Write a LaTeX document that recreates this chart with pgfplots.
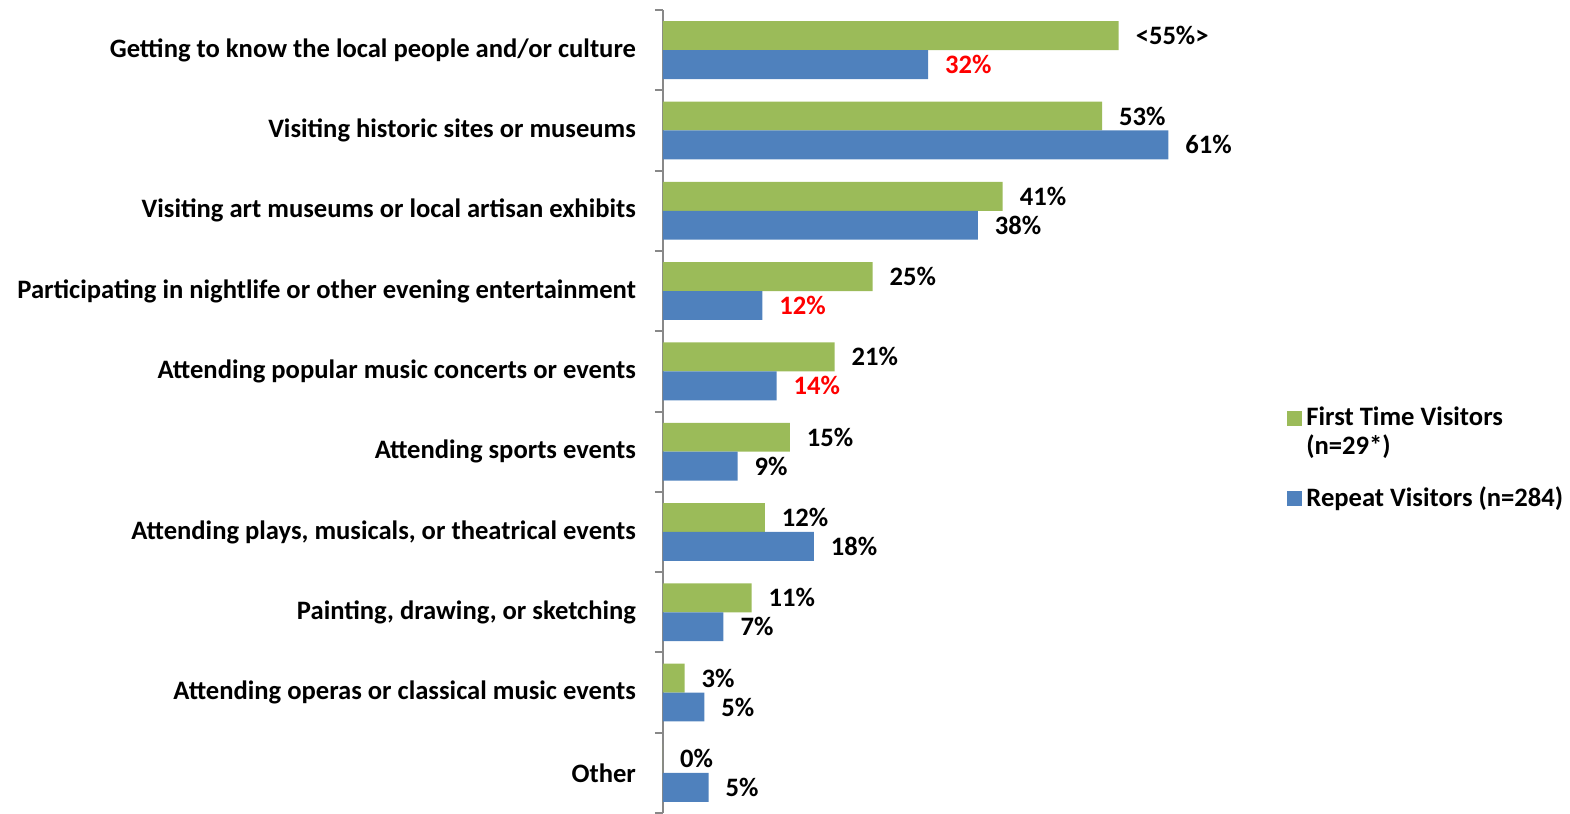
\documentclass[border=0pt]{standalone}
\usepackage{pgfplots}
\pgfplotsset{compat=1.18}
\usepackage{fontspec}
\setmainfont{Carlito}
\definecolor{fgreen}{HTML}{9BBB59}
\definecolor{rblue}{HTML}{4F81BD}
\definecolor{axgray}{HTML}{888888}
\newcommand{\R}[1]{\textcolor{red}{#1\%}}
\newcommand{\lfont}{\bfseries\fontsize{13.3}{14.5}\selectfont}
\begin{document}
\begin{tikzpicture}
\begin{axis}[
  scale only axis, width=290pt, height=401.5pt,
  xmin=0, xmax=70, ymin=-0.5, ymax=9.5, y dir=reverse,
  axis x line=none,
  axis y line*=left,
  y axis line style={draw=axgray, line width=1pt, -},
  ytick={0,...,9},
  yticklabels={
    Getting to know the local people and/or culture,
    Visiting historic sites or museums,
    Visiting art museums or local artisan exhibits,
    Participating in nightlife or other evening entertainment,
    Attending popular music concerts or events,
    Attending sports events,
    {Attending plays, musicals, or theatrical events},
    {Painting, drawing, or sketching},
    Attending operas or classical music events,
    Other},
  major tick length=0pt,
  minor ytick={-0.5,0.5,...,9.5},
  minor tick length=4pt,
  tick align=outside,
  minor tick style={draw=axgray, line width=1pt},
  yticklabel style={font=\lfont, xshift=-10pt},
  xbar, bar width=0.36,
  nodes near coords, point meta=explicit symbolic,
  every node near coord/.append style={anchor=west, font=\lfont, text=black, xshift=5pt},
  legend image code/.code={\fill[#1] (0pt,0pt) rectangle (7.5pt,7.5pt);},
  legend style={draw=none, fill=none, at={(1,0.443)}, anchor=west, xshift=22pt,
    font=\lfont, cells={anchor=base west}, row sep=25pt, inner sep=0pt},
]
\addplot[fill=fgreen, draw=none, bar shift=-0.18] coordinates {
  (55,0) [<55\%>]
  (53,1) [53\%]
  (41,2) [41\%]
  (25.3,3) [25\%]
  (20.7,4) [21\%]
  (15.3,5) [15\%]
  (12.3,6) [12\%]
  (10.7,7) [11\%]
  (2.6,8) [3\%]
  (0,9) [0\%]
};
\addplot[fill=rblue, draw=none, bar shift=0.18] coordinates {
  (32,0) [\R{32}]
  (61,1) [61\%]
  (38,2) [38\%]
  (12,3) [\R{12}]
  (13.7,4) [\R{14}]
  (9,5) [9\%]
  (18.2,6) [18\%]
  (7.3,7) [7\%]
  (5,8) [5\%]
  (5.5,9) [5\%]
};
\legend{{\begin{tabular}[t]{@{}l@{}}First Time Visitors\\(n=29*)\end{tabular}}, Repeat Visitors (n=284)}
\end{axis}
\pgfresetboundingbox
\path ([xshift=-331.5pt]current axis.south west) rectangle ([xshift=163.5pt,yshift=5pt]current axis.north east);
\end{tikzpicture}
\end{document}
